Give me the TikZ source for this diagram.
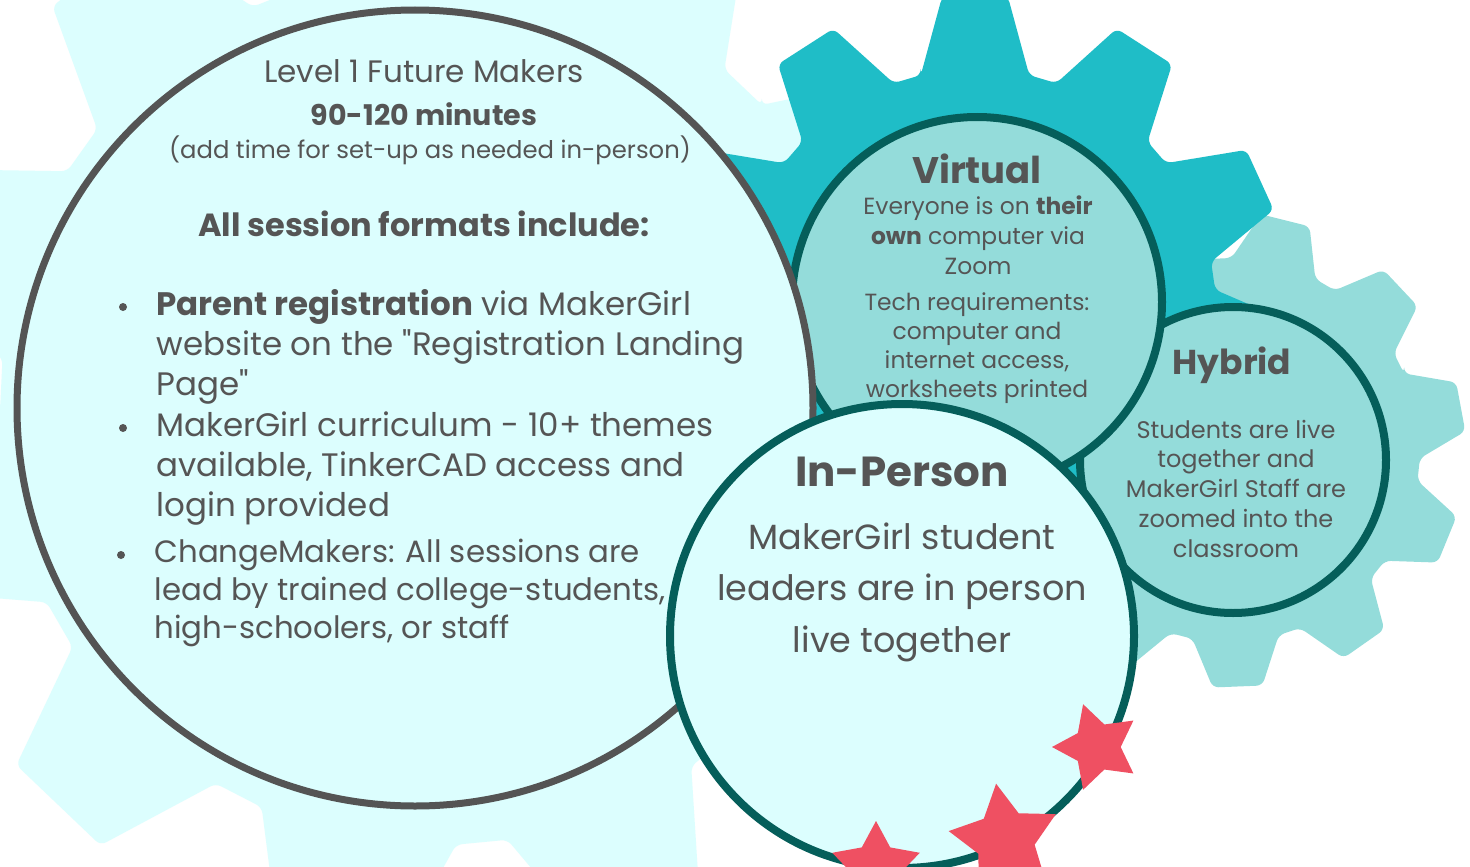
\documentclass[tikz,border=0pt]{standalone}
\usepackage{fontspec}
\setmainfont{Poppins}
\newfontfamily\straightq{Poppins}
\usetikzlibrary{shapes.geometric}

\definecolor{paleaqua}{HTML}{DCFEFE}
\definecolor{gearteal}{HTML}{1FBDC7}
\definecolor{softteal}{HTML}{94DCDA}
\definecolor{deepteal}{HTML}{055E5A}
\definecolor{ringgray}{HTML}{545454}
\definecolor{txtgray}{HTML}{555555}
\definecolor{starred}{HTML}{EF5062}

% #1 colour, #2 centre, #3 root radius, #4 tip radius, #5 angle of one tooth
\newcommand{\gear}[5]{%
  \fill[#1, rounded corners=6pt, shift={#2}] ({-#5-13}:#3)
    \foreach[evaluate=\k as \t using {-(#5+\k*360/11)}] \k in {1,...,11}{
      -- ({\t+13}:#3) -- ({\t+6}:#4) -- ({\t-6}:#4) -- ({\t-13}:#3)
    } -- cycle;}
\newcommand{\qq}{{\straightq\symbol{34}}}

\begin{document}
\begin{tikzpicture}[x=1pt, y=-1pt,
    ring/.style={circle, inner sep=0pt, line width=8pt, draw=deepteal},
    words/.style={text=txtgray, align=center, anchor=base},
    dot/.style={circle, inner sep=0pt, minimum size=8pt, fill=txtgray},
    sparkle/.style={star, star points=5, star point ratio=1.9, inner sep=0pt, fill=starred}]

  \useasboundingbox (0,0) rectangle (1470,867);
  \fill[white] (0,0) rectangle (1470,867);

  \begin{scope}
    \clip (0,0) rectangle (1470,867);
    % gears
    \gear{paleaqua}{(440,405)}{440}{556}{30}
    \gear{softteal}{(1228,450)}{192}{238}{10.5}
    \gear{gearteal}{(975,310)}{241}{315}{90}
    % circles
    \node[ring, fill=softteal, minimum size=306pt] (hyb) at (1233,460) {};
    \node[ring, fill=softteal, minimum size=370pt] (virt) at (977,302) {};
    \node[ring, fill=paleaqua, draw=ringgray, line width=7pt, minimum size=796pt] (fm) at (415,408) {};
    \node[ring, fill=paleaqua, minimum size=464pt] (inper) at (902,636) {};
    % stars
    \node[sparkle, minimum size=90pt, rotate=18] (s1) at (1097,747) {};
    \node[sparkle, minimum size=114pt, rotate=9] (s2) at (1005,840) {};
    \node[sparkle, minimum size=92pt] (s3) at (876,867) {};
  \end{scope}

  % future makers (base = last line)
  \node[words, font=\fontsize{31}{36}\selectfont] (lvl) at (424,82) {Level 1 Future Makers};
  \node[words, font=\bfseries\fontsize{28.5}{32}\selectfont] (mins) at (424,125) {90-120 minutes};
  \node[words, font=\fontsize{24.3}{28}\selectfont] (note) at (430,158) {(add time for set-up as needed in-person)};
  \node[words, font=\bfseries\fontsize{32}{36}\selectfont] (incl) at (424,236) {All session formats include:};

  \node[dot] (d1) at (123,307) {};
  \node[words, align=left, anchor=base west, font=\fontsize{32.5}{40}\selectfont] (p1) at (153,395)
    {\textbf{Parent registration} via MakerGirl\\website on the \qq Registration Landing\\Page\qq};
  \node[dot] (d2) at (123,428) {};
  \node[words, align=left, anchor=base west, font=\fontsize{32.5}{40}\selectfont] (p2) at (153,516)
    {MakerGirl curriculum - 10+ themes\\available, TinkerCAD access and\\login provided};
  \node[dot] (d3) at (121,555) {};
  \node[words, align=left, anchor=base west, font=\fontsize{30.8}{38}\selectfont] (p3) at (151,638)
    {ChangeMakers: All sessions are\\lead by trained college-students,\\high-schoolers, or staff};

  % virtual
  \node[words, font=\bfseries\fontsize{37}{40}\selectfont] (virtT) at (977,183) {Virtual};
  \node[words, font=\fontsize{23.4}{30}\selectfont] (virtB) at (978,274)
    {Everyone is on \textbf{their}\\\textbf{own} computer via\\Zoom};
  \node[words, font=\fontsize{23.4}{29}\selectfont] (virtC) at (977,397)
    {Tech requirements:\\computer and\\internet access,\\worksheets printed};

  % hybrid
  \node[words, font=\bfseries\fontsize{34.5}{40}\selectfont] (hybT) at (1232,374) {Hybrid};
  \node[words, font=\fontsize{24}{29.7}\selectfont] (hybB) at (1236,557)
    {Students are live\\together and\\MakerGirl Staff are\\zoomed into the\\classroom};

  % in-person
  \node[words, font=\bfseries\fontsize{42}{50}\selectfont] (inT) at (902,486) {In-Person};
  \node[words, font=\fontsize{35}{51.5}\selectfont] (inB) at (902,652)
    {MakerGirl student\\leaders are in person\\live together};
\end{tikzpicture}
\end{document}
